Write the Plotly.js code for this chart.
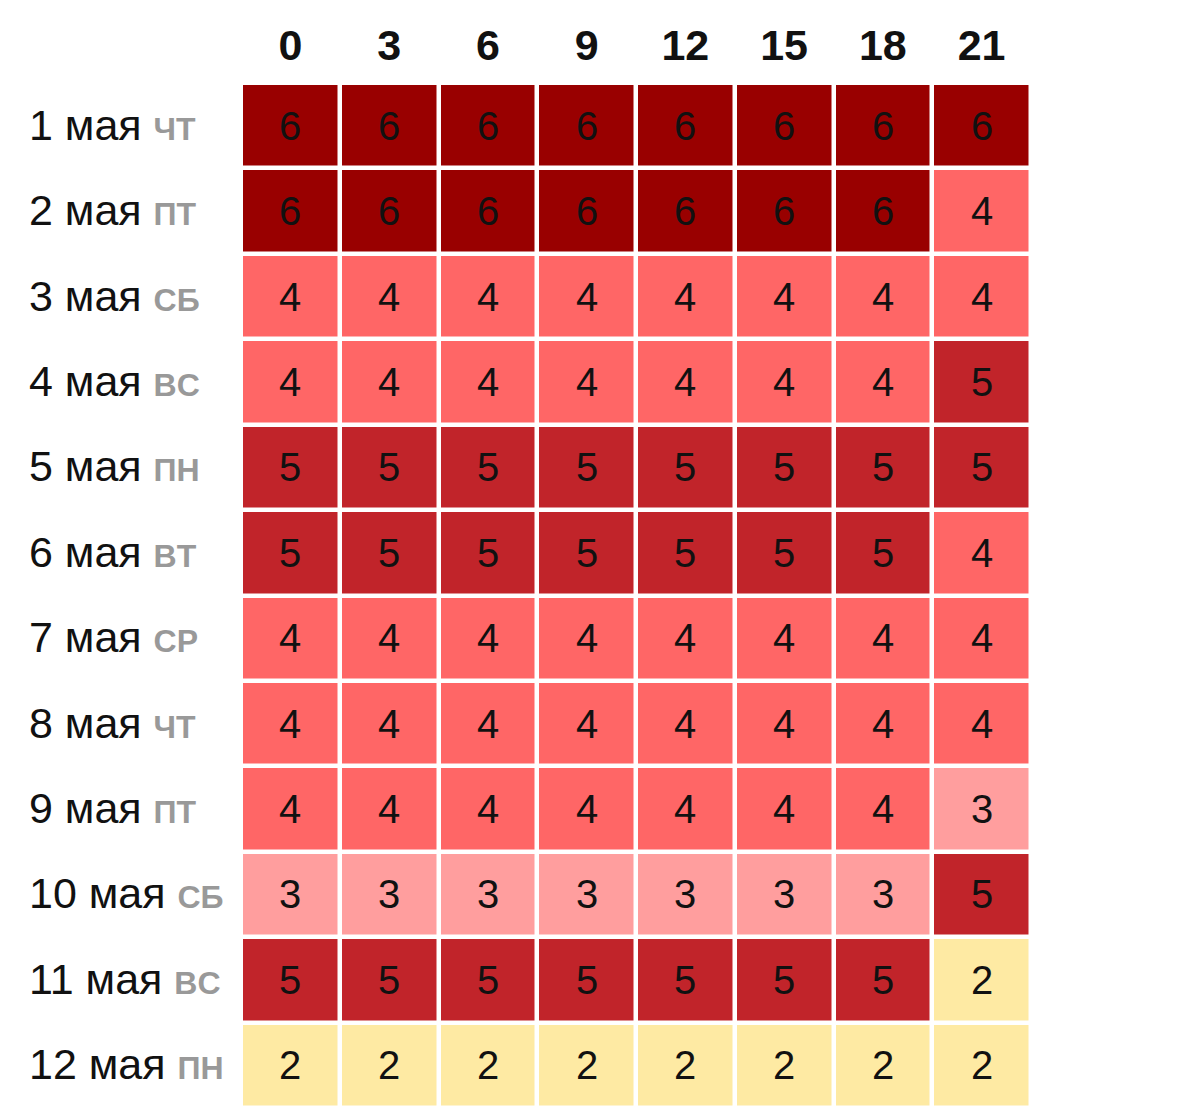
<!DOCTYPE html>
<html>
<head>
<meta charset="utf-8">
<script src="https://cdn.plot.ly/plotly-3.0.1.min.js"></script>
<style>html,body{margin:0;padding:0;background:#fff;}#chart{width:1200px;height:1109px;}</style>
</head>
<body>
<div id="chart"></div>
<script>
const hours = ['0', '3', '6', '9', '12', '15', '18', '21'];
const dates = ['1 мая', '2 мая', '3 мая', '4 мая', '5 мая', '6 мая', '7 мая', '8 мая', '9 мая', '10 мая', '11 мая', '12 мая'];
const weekdays = ['Чт', 'Пт', 'Сб', 'Вс', 'Пн', 'Вт', 'Ср', 'Чт', 'Пт', 'Сб', 'Вс', 'Пн'];
const levels = [
  [6, 6, 6, 6, 6, 6, 6, 6],
  [6, 6, 6, 6, 6, 6, 6, 4],
  [4, 4, 4, 4, 4, 4, 4, 4],
  [4, 4, 4, 4, 4, 4, 4, 5],
  [5, 5, 5, 5, 5, 5, 5, 5],
  [5, 5, 5, 5, 5, 5, 5, 4],
  [4, 4, 4, 4, 4, 4, 4, 4],
  [4, 4, 4, 4, 4, 4, 4, 4],
  [4, 4, 4, 4, 4, 4, 4, 3],
  [3, 3, 3, 3, 3, 3, 3, 5],
  [5, 5, 5, 5, 5, 5, 5, 2],
  [2, 2, 2, 2, 2, 2, 2, 2]
];
const levelColors = ['#feeaa3', '#ff9e9e', '#ff6666', '#c1242a', '#990000'];

const FONT = 'Liberation Sans, Arial, sans-serif';
const colorscale = levelColors.map((c, i) => [i / (levelColors.length - 1), c]);

const trace = {
  type: 'heatmap',
  x: hours,
  y: dates,
  z: levels,
  zmin: 2,
  zmax: 6,
  colorscale: colorscale,
  showscale: false,
  xgap: 4.5,
  ygap: 4.5,
  texttemplate: '%{z}',
  textfont: {family: FONT, size: 40, color: '#111111'},
  hoverinfo: 'skip'
};

const L = 241, R = 169, T = 83, B = 1;
const plotW = 1200 - L - R;
const labelX = (27 - L) / plotW;

const annotations = dates.map((d, i) => ({
  xref: 'paper', yref: 'y',
  x: labelX, y: d,
  xanchor: 'left', yanchor: 'middle',
  yshift: 2,
  showarrow: false,
  text: d + ' <span style="font-size:46px;font-variant:all-small-caps;font-weight:bold;fill:#999999">' + weekdays[i] + '</span>',
  font: {family: FONT, size: 43, color: '#111111'}
}));

const layout = {
  width: 1200,
  height: 1109,
  margin: {l: L, r: R, t: T, b: B, pad: 0},
  paper_bgcolor: '#ffffff',
  plot_bgcolor: '#ffffff',
  showlegend: false,
  xaxis: {
    type: 'category',
    side: 'top',
    showgrid: false,
    zeroline: false,
    showline: false,
    ticks: '',
    ticklabelstandoff: 13,
    tickfont: {family: FONT, size: 43, color: '#111111', weight: 'bold'},
    fixedrange: true
  },
  yaxis: {
    type: 'category',
    autorange: 'reversed',
    showgrid: false,
    zeroline: false,
    showline: false,
    ticks: '',
    showticklabels: false,
    fixedrange: true
  },
  annotations: annotations
};

Plotly.newPlot('chart', [trace], layout, {displayModeBar: false, staticPlot: true});
</script>
</body>
</html>
